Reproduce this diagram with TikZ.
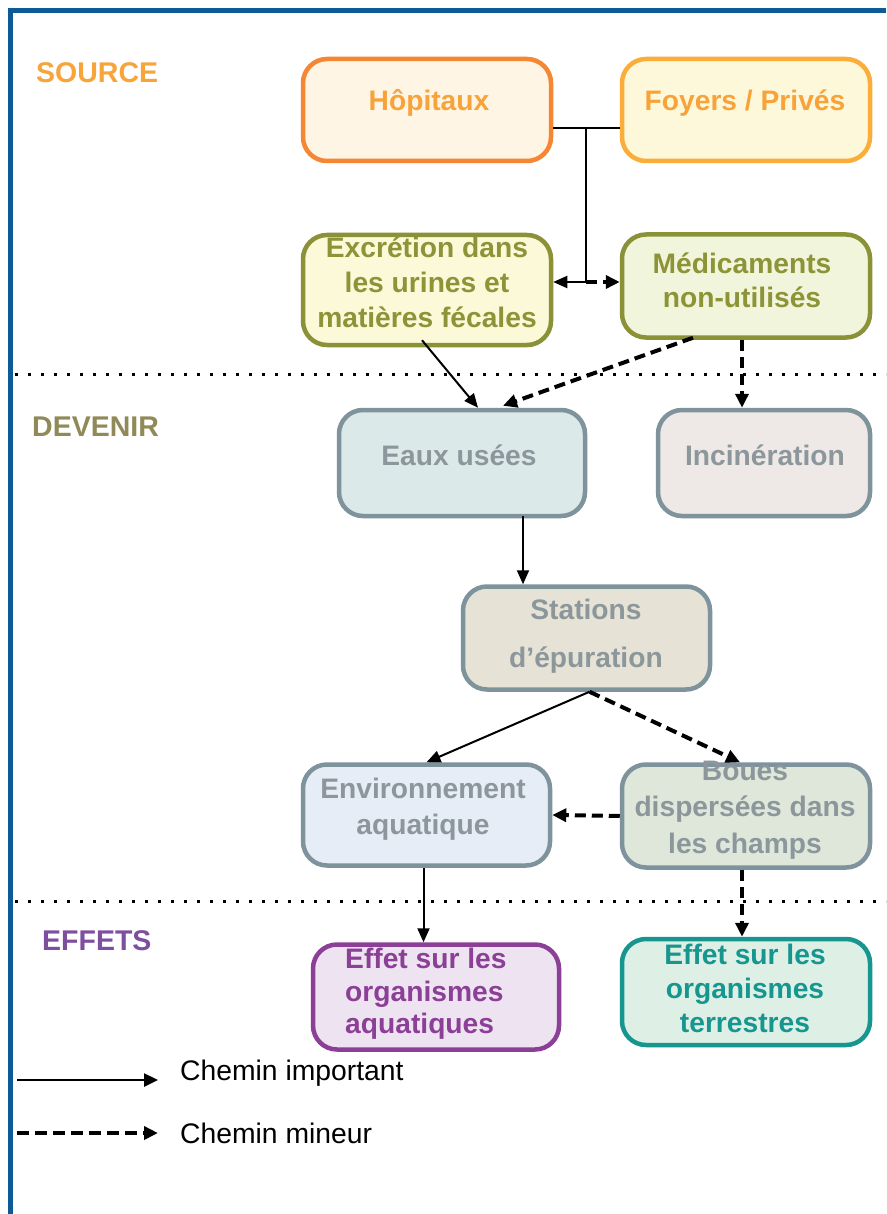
\documentclass[tikz,border=0pt]{standalone}
\usepackage{fontspec}
\setmainfont{Liberation Sans}
\usetikzlibrary{arrows.meta,calc}
\definecolor{frameblue}{HTML}{0E5A96}
\definecolor{hopb}{HTML}{F58634}
\definecolor{hopf}{HTML}{FEF5E4}
\definecolor{foyb}{HTML}{FBAD3A}
\definecolor{foyf}{HTML}{FEF8DB}
\definecolor{orangetxt}{HTML}{F8A33A}
\definecolor{oliveb}{HTML}{8A9137}
\definecolor{olivetxt}{HTML}{8D9438}
\definecolor{excf}{HTML}{FCF9D9}
\definecolor{medf}{HTML}{F1F5DB}
\definecolor{grayb}{HTML}{7F939D}
\definecolor{graytxt}{HTML}{8C979C}
\definecolor{eauf}{HTML}{DCE9E9}
\definecolor{incf}{HTML}{EEE8E7}
\definecolor{staf}{HTML}{E6E3D6}
\definecolor{envf}{HTML}{E6EDF7}
\definecolor{bouf}{HTML}{DEE7DA}
\definecolor{purpb}{HTML}{8C3F96}
\definecolor{purpf}{HTML}{EEE4F1}
\definecolor{tealb}{HTML}{16968F}
\definecolor{tealf}{HTML}{DEF0E6}
\definecolor{srctxt}{HTML}{F7A43A}
\definecolor{devtxt}{HTML}{8F8A57}
\definecolor{efftxt}{HTML}{7E4F9F}
\newcommand\bfnt[1]{\fontsize{28.2}{#1}\selectfont\bfseries}
\begin{document}
\begin{tikzpicture}[x=1pt,y=-1pt,
  box/.style={draw, rounded corners=24pt, line width=4.5pt, inner sep=0pt},
  txt/.style={inner sep=0pt, align=center},
  lbl/.style={inner sep=0pt, anchor=west, font=\fontsize{28.5}{34}\selectfont\bfseries},
  solidarrow/.style={line width=2pt, -{Triangle[length=14pt,width=12pt]}},
  dasharrow/.style={line width=4pt, dash pattern=on 11pt off 6pt, -{Triangle[length=14pt,width=13pt]}},
  sep/.style={line width=3pt, dash pattern=on 2.5pt off 10.5pt}]
\useasboundingbox (0,0) rectangle (886,1214);
\fill[white] (0,0) rectangle (886,1214);
% frame
\draw[frameblue, line width=5pt] (886,10.5) -- (10.5,10.5) -- (10.5,1214);
% separators
\draw[sep] (15,374) -- (886,374);
\draw[sep] (15,901) -- (886,901);
% section labels
\node[lbl, text=srctxt] (lsrc) at (36,73) {SOURCE};
\node[lbl, text=devtxt] (ldev) at (32,427) {DEVENIR};
\node[lbl, text=efftxt] (leff) at (42,941) {EFFETS};
% boxes
\node[box, draw=hopb, fill=hopf, minimum width=248pt, minimum height=102pt] (hop) at (427,110) {};
\node[box, draw=foyb, fill=foyf, minimum width=248pt, minimum height=102pt] (foy) at (746,110) {};
\node[box, draw=oliveb, fill=excf, minimum width=248pt, minimum height=110pt] (exc) at (427,290) {};
\node[box, draw=oliveb, fill=medf, minimum width=248pt, minimum height=103pt] (med) at (746,286) {};
\node[box, draw=grayb, fill=eauf, minimum width=246pt, minimum height=106pt] (eau) at (462,463) {};
\node[box, draw=grayb, fill=incf, minimum width=212pt, minimum height=106pt] (inc) at (764,463) {};
\node[box, draw=grayb, fill=staf, minimum width=247pt, minimum height=103pt] (sta) at (586.5,638) {};
\node[box, draw=grayb, fill=envf, minimum width=247pt, minimum height=101pt] (env) at (426.5,815) {};
\node[box, draw=grayb, fill=bouf, minimum width=248pt, minimum height=103pt] (bou) at (746,816) {};
\node[box, draw=purpb, fill=purpf, minimum width=246pt, minimum height=105pt] (effa) at (436,997) {};
\node[box, draw=tealb, fill=tealf, minimum width=248pt, minimum height=106pt] (efft) at (746,992) {};
% box texts
\node[txt, text=orangetxt, font=\bfnt{34}] (thop) at (429,103) {Hôpitaux};
\node[txt, text=orangetxt, font=\bfnt{34}] (tfoy) at (745,103) {Foyers / Privés};
\node[txt, text=olivetxt, font=\bfnt{35}] (texc) at (427,282) {Excrétion dans\\les urines et\\matières fécales};
\node[txt, text=olivetxt, font=\bfnt{34}] (tmed) at (742,280) {Médicaments\\non-utilisés};
\node[txt, text=graytxt, font=\bfnt{34}] (teau) at (459,455) {Eaux usées};
\node[txt, text=graytxt, font=\bfnt{34}] (tinc) at (765,455) {Incinération};
\node[txt, text=graytxt, font=\bfnt{48}] (tsta) at (586,636) {Stations\\d’épuration};
\node[txt, text=graytxt, font=\bfnt{36}] (tenv) at (423,809) {Environnement\\aquatique};
\node[txt, text=graytxt, font=\bfnt{36.5}] (tbou) at (745,810) {Boues\\dispersées dans\\les champs};
\node[txt, text=purpb, font=\bfnt{32.5}, align=left, anchor=west] (teffa) at (345,994) {Effet sur les\\organismes\\aquatiques};
\node[txt, text=tealb, font=\bfnt{34}] (tefft) at (745,988) {Effet sur les\\organismes\\terrestres};
% connectors
\coordinate (j1) at (586,128);
\coordinate (j2) at (586,282);
\coordinate (m1) at ($(med.south)+(-4,0)$);
\coordinate (m2) at ($(med.south)+(-53,-2)$);
\coordinate (e1) at ($(eau.south)+(61,-2)$);
\coordinate (x1) at ($(exc.south)+(-5,-7)$);
\coordinate (s1) at ($(sta.south)+(3,0)$);
\coordinate (v1) at ($(env.south)+(-3,0)$);
\coordinate (b1) at ($(bou.south)+(-4,0)$);
\draw[line width=2pt] (hop.east |- j1) -- (foy.west |- j1);
\draw[line width=2pt] (j1) -- (j2);
\draw[solidarrow] (j2) -- (exc.east |- j2);
\draw[dasharrow] (j2) -- (med.west |- j2);
\draw[solidarrow] (x1) -- ($(eau.north)+(16,0)$);
\draw[dasharrow] (m2) -- ($(eau.north)+(41,-2)$);
\draw[dasharrow] (m1) -- (m1 |- inc.north);
\draw[solidarrow] (e1) -- (e1 |- sta.north);
\draw[solidarrow] (s1) -- (env.north);
\draw[dasharrow] (s1) -- ($(bou.north)+(-6,0)$);
\draw[dasharrow] (bou.west) -- (env.east);
\draw[solidarrow] (v1) -- (v1 |- effa.north);
\draw[dasharrow] (b1) -- (b1 |- efft.north);
% legend
\coordinate (la1) at (17,1080);
\coordinate (la2) at (158,1080);
\coordinate (lb1) at (17,1133);
\coordinate (lb2) at (158,1133);
\draw[line width=2.5pt, -{Triangle[length=14pt,width=13pt]}] (la1) -- (la2);
\draw[line width=4pt, dash pattern=on 12pt off 6pt, -{Triangle[length=14pt,width=13pt]}] (lb1) -- (lb2);
\node[inner sep=0pt, anchor=west, font=\fontsize{28.3}{34}\selectfont] (tla) at (180,1073) {Chemin important};
\node[inner sep=0pt, anchor=west, font=\fontsize{28.3}{34}\selectfont] (tlb) at (180,1133) {Chemin mineur};
\end{tikzpicture}
\end{document}
